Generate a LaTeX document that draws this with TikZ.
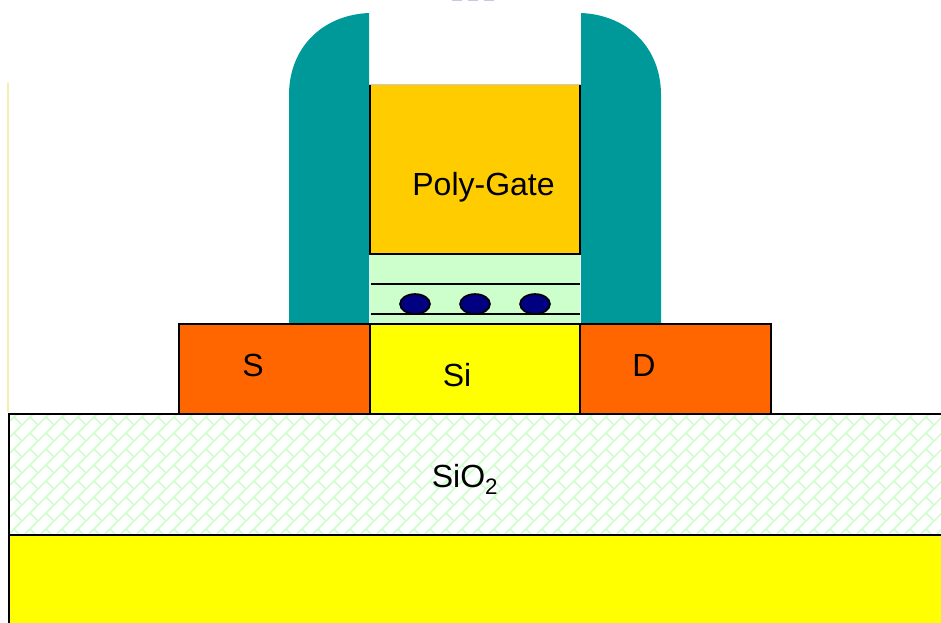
\documentclass[tikz,border=0pt]{standalone}
\usepackage{fontspec}
\setmainfont{Liberation Sans}
\definecolor{teal}{HTML}{009999}
\definecolor{gateor}{HTML}{FFCC00}
\definecolor{oxgreen}{HTML}{CCFFCC}
\definecolor{sdorange}{HTML}{FF6600}
\definecolor{siyellow}{HTML}{FFFF00}
\definecolor{dotblue}{HTML}{000080}
\definecolor{edgeyellow}{HTML}{F7EDB0}
\definecolor{edgegrey}{HTML}{C8C8C8}
\definecolor{smudge}{HTML}{C4CADF}
\tikzset{
  layer/.style={draw=black,line width=2pt,line join=miter},
  spacer/.style={fill=teal,draw=none},
  trap/.style={draw=black,line width=1.6pt,fill=dotblue},
  film/.style={draw=black,line width=1.6pt},
  brick/.style={draw=oxgreen,line width=1.6pt},
  label/.style={font=\fontsize{32}{36}\selectfont,text=black,inner sep=0pt}
}
\begin{document}
\begin{tikzpicture}[x=1pt,y=-1pt]
\useasboundingbox (0,0) rectangle (941,622);
% stray traces at the picture edges
\draw[edgeyellow,line width=1.2pt] (8,83) -- (8,412);
\foreach \sx in {452,468,484}
  \draw[smudge,line width=1.5pt] (\sx,0.7) -- ++(10,0);
% spacers
\path[spacer] (369,13) .. controls (322,15) and (289,48) .. (289,95) -- (289,324) -- (369,324) -- cycle;
\path[spacer] (581,13) .. controls (628,15) and (661,48) .. (661,95) -- (661,324) -- (581,324) -- cycle;
% gate stack
\path[fill=oxgreen] (370,254) rectangle (580,324);
\path[fill=gateor] (370,85) rectangle (580,254);
\draw[edgegrey,line width=0.8pt] (369,84.5) -- (581,84.5);
\draw[layer] (370,85) -- (370,254) -- (580,254) -- (580,85);
\draw[film] (371,284) -- (580,284);
\draw[film] (371,314) -- (580,314);
\foreach \cx/\nm in {415/a,475/b,535/c}
  \draw[trap] (\cx,304) ellipse (15 and 10);
% source, channel, drain
\draw[layer,fill=sdorange] (179,324) rectangle (370,414);
\draw[layer,fill=sdorange] (580,324) rectangle (771,414);
\draw[layer,fill=siyellow] (370,324) rectangle (580,414);
% buried oxide and substrate
\begin{scope}
  \clip (9,415) rectangle (941,534);
  \foreach \a in {0,...,59}
    \foreach \b in {25,...,33}
      \draw[brick] (\a*16+14,\b*16+1) -- ++(8,8);
  \foreach \n in {-10,...,60}
    \draw[brick] (\n*16+14,545) -- ++(145,-145);
\end{scope}
\draw[layer] (9,534) -- (9,414) -- (942,414);
\draw[layer,fill=siyellow] (9,623) -- (9,535) -- (942,535) -- (942,623);
% labels
\node[label] (gate) at (483.5,187.5) {Poly-Gate};
\node[label] (s) at (253,365.5) {S};
\node[label] (si) at (457,375.5) {Si};
\node[label] (d) at (644,365.5) {D};
\node[label] (ox) at (465,479) {SiO\textsubscript{2}};
\end{tikzpicture}
\end{document}
